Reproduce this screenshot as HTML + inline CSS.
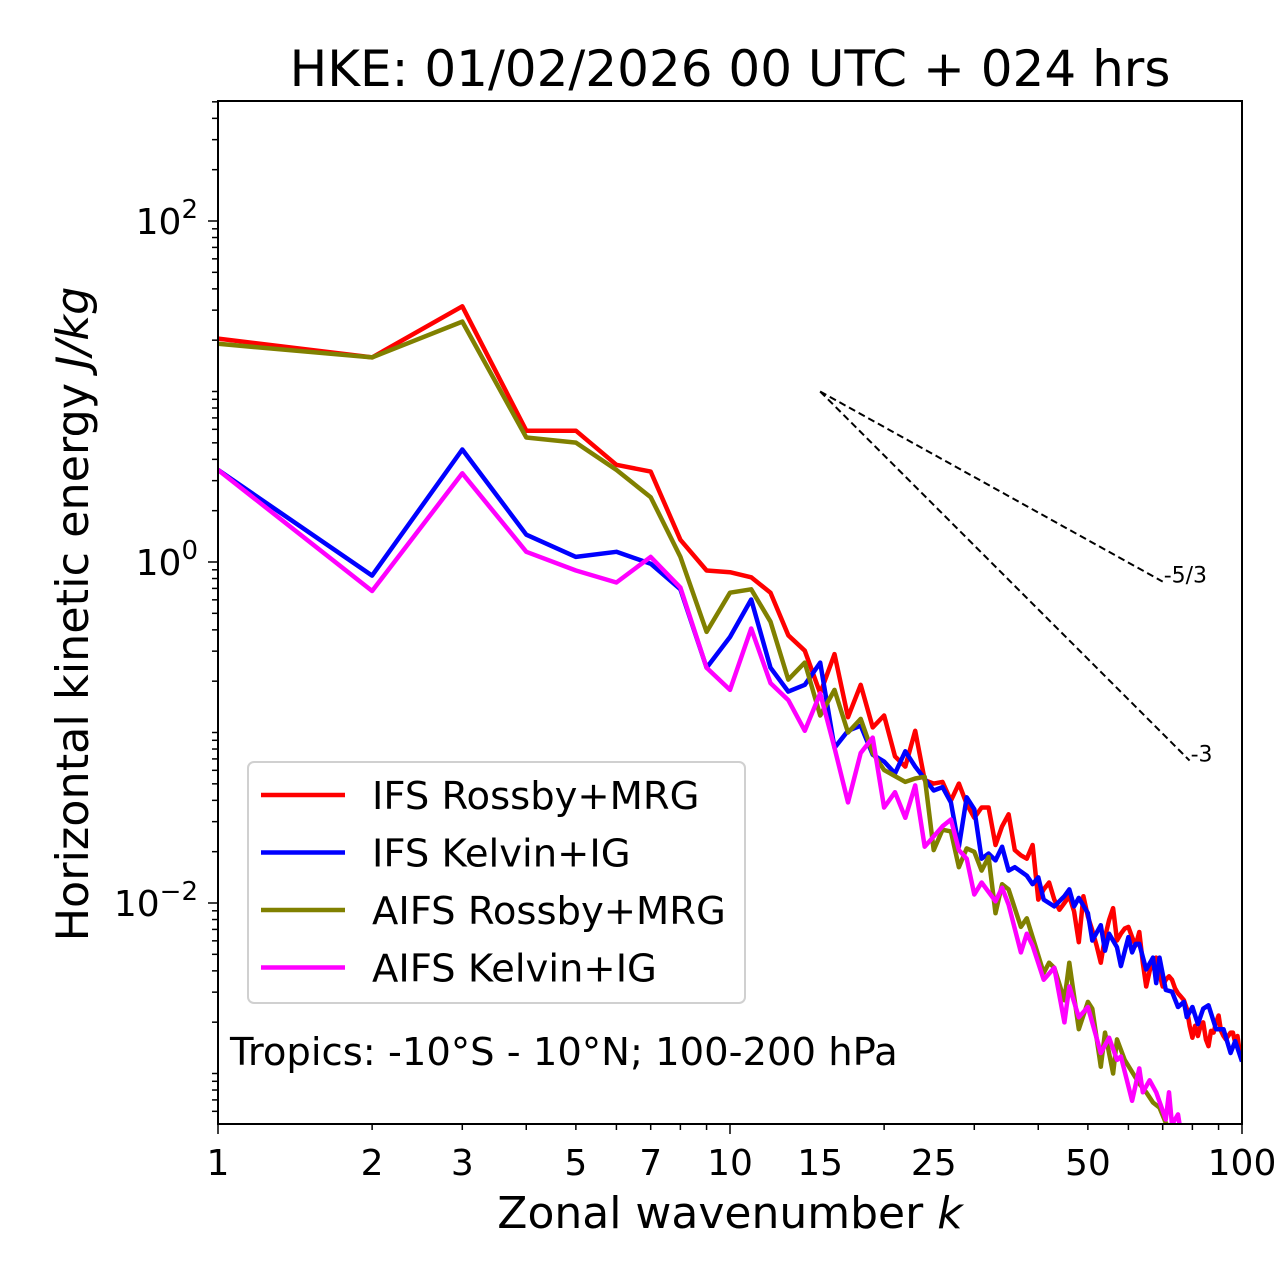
<!DOCTYPE html>
<html><head><meta charset="utf-8"><style>
body{margin:0;background:#fff}
svg{display:block;font-family:"DejaVu Sans","Liberation Sans",sans-serif}
</style></head><body>
<svg id="chart" width="1280" height="1288" viewBox="0 0 1280 1288" xmlns="http://www.w3.org/2000/svg">
<rect width="1280" height="1288" fill="#fff"/>
<text x="730" y="86" font-size="50" text-anchor="middle">HKE: 01/02/2026 00 UTC + 024 hrs</text>
<g id="plot"></g>
</svg>
<script>
// Data: zonal wavenumber k and log10 of energy (J/kg)
const kIfsR = [1,2,3,4,5,6,7,8,9,10,11,12,13,14,15,16,17,18,19,20,21,22,23,24,25,26,27,28,29,30,31,32,33,34,35,36,37,38,39,40,41,42,43,44,45,46,47,48,49,50,51,52,53,54,55,56,57,58,59,60,61,62,63,64,65,66,67,68,69,70,71,72,73,74,75,76,77,78,79,80,81,82,83,84,85,86,87,88,89,90,91,92,93,94,95,96,97,98,99,100];
const logIfsR = [1.31,1.20,1.50,0.77,0.77,0.57,0.53,0.13,-0.05,-0.06,-0.09,-0.18,-0.43,-0.52,-0.77,-0.54,-0.91,-0.72,-0.97,-0.90,-1.14,-1.20,-0.99,-1.28,-1.30,-1.29,-1.40,-1.30,-1.42,-1.50,-1.44,-1.44,-1.66,-1.55,-1.48,-1.69,-1.72,-1.74,-1.66,-1.98,-1.92,-1.88,-1.98,-2.04,-2.00,-1.96,-2.05,-2.23,-1.96,-2.08,-2.16,-2.25,-2.35,-2.20,-2.10,-2.03,-2.22,-2.18,-2.15,-2.14,-2.20,-2.25,-2.17,-2.35,-2.49,-2.40,-2.35,-2.32,-2.42,-2.49,-2.45,-2.43,-2.45,-2.50,-2.53,-2.55,-2.57,-2.62,-2.72,-2.79,-2.72,-2.78,-2.72,-2.70,-2.80,-2.84,-2.75,-2.76,-2.70,-2.66,-2.75,-2.78,-2.80,-2.78,-2.76,-2.76,-2.82,-2.78,-2.88,-2.92];
const kIfsK = [1,2,3,4,5,6,7,8,9,10,11,12,13,14,15,16,17,18,19,20,21,22,23,25,26,27,28,29,30,31,32,33,34,35,36,38,39,40,41,43,45,46,47,48,50,51,53,54,55,57,58,60,61,62,63,65,67,68,69,71,73,75,77,78,80,82,84,86,89,92,95,97,100];
const logIfsK = [0.54,-0.08,0.66,0.16,0.03,0.06,-0.01,-0.16,-0.62,-0.44,-0.22,-0.62,-0.76,-0.72,-0.59,-1.09,-0.99,-0.96,-1.13,-1.17,-1.24,-1.11,-1.20,-1.34,-1.32,-1.41,-1.67,-1.38,-1.45,-1.74,-1.71,-1.75,-1.67,-1.81,-1.79,-1.84,-1.89,-1.85,-1.98,-2.02,-1.96,-1.92,-2.02,-1.97,-2.06,-2.22,-2.13,-2.28,-2.18,-2.26,-2.37,-2.20,-2.29,-2.24,-2.24,-2.39,-2.32,-2.47,-2.32,-2.51,-2.52,-2.61,-2.58,-2.67,-2.61,-2.71,-2.62,-2.60,-2.74,-2.74,-2.88,-2.81,-2.93];
const kAifsR = [1,2,3,4,5,6,7,8,9,10,11,12,13,14,15,16,17,18,19,20,22,23,24,25,26,27,28,29,30,31,32,33,34,35,37,38,39,41,42,43,45,46,48,50,51,53,54,56,57,59,63,65,67,69,71,73,75];
const logAifsR = [1.28,1.20,1.41,0.73,0.70,0.54,0.38,0.03,-0.41,-0.18,-0.16,-0.35,-0.69,-0.59,-0.90,-0.75,-1.00,-0.92,-1.12,-1.22,-1.29,-1.27,-1.26,-1.69,-1.57,-1.58,-1.79,-1.68,-1.70,-1.81,-1.73,-2.06,-1.89,-1.92,-2.14,-2.09,-2.20,-2.41,-2.35,-2.38,-2.57,-2.35,-2.74,-2.58,-2.62,-2.96,-2.76,-3.00,-2.80,-2.92,-3.06,-3.11,-3.17,-3.20,-3.29,-3.35,-3.40];
const kAifsK = [1,2,3,4,5,6,7,8,9,10,11,12,13,14,15,16,17,18,19,20,21,22,23,24,26,27,28,29,30,31,33,34,35,37,38,39,41,43,45,46,48,50,53,55,57,58,61,63,64,66,68,71,72,73,75,76];
const logAifsK = [0.54,-0.17,0.52,0.06,-0.05,-0.12,0.03,-0.15,-0.62,-0.75,-0.39,-0.71,-0.81,-0.99,-0.77,-1.09,-1.41,-1.12,-1.03,-1.44,-1.35,-1.50,-1.31,-1.67,-1.55,-1.51,-1.69,-1.74,-1.95,-1.88,-1.99,-1.91,-2.01,-2.29,-2.18,-2.25,-2.45,-2.38,-2.70,-2.49,-2.67,-2.61,-2.88,-2.79,-2.92,-2.90,-3.16,-2.97,-3.11,-3.04,-3.11,-3.27,-3.11,-3.30,-3.24,-3.35];
const xTickLabels = [1,2,3,5,7,10,15,25,50,100];
const yTickLabelExps = [-2,0,2];
const refStartK = 15, refStartE = 10;
const refSlopes = [-5/3, -3];
const refEndK = [70, 79];
const refLabels = ["-5/3", "-3"];

const L=218,R=1242,T=101,B=1124;
const X=k=>L+(R-L)*Math.log10(k)/2;
const YL=le=>562-170.5*le;
const NS="http://www.w3.org/2000/svg";
const g=document.getElementById('plot');
function mk(tag,attrs,parent){const e=document.createElementNS(NS,tag);for(const a in attrs)e.setAttribute(a,attrs[a]);(parent||g).appendChild(e);return e;}

const defs=mk('defs',{});const cp=mk('clipPath',{id:'clip'},defs);mk('rect',{x:L,y:T,width:R-L,height:B-T},cp);
const lines=mk('g',{'clip-path':'url(#clip)'});



const series=[[kIfsR,logIfsR,'#ff0000','ifs-rossby-mrg-line'],[kIfsK,logIfsK,'#0000ff','ifs-kelvin-ig-line'],[kAifsR,logAifsR,'#808000','aifs-rossby-mrg-line'],[kAifsK,logAifsK,'#ff00ff','aifs-kelvin-ig-line']];
series.forEach(s=>{
  const p=mk('polyline',{points:s[0].map((k,i)=>X(k).toFixed(1)+','+YL(s[1][i]).toFixed(1)).join(' '),fill:'none',stroke:s[2],'stroke-width':4.5,'stroke-linejoin':'round'},lines);
  
  
});
refSlopes.forEach((sl,i)=>{
  const x1=X(refStartK),y1=YL(Math.log10(refStartE));
  const x2=X(refEndK[i]),y2=YL(Math.log10(refStartE)+sl*Math.log10(refEndK[i]/refStartK));
  const l=mk('line',{x1,y1,x2,y2,stroke:'#000','stroke-width':2,'stroke-dasharray':'7,4'},lines);
  
  
  const t=mk('text',{x:x2+1,y:y2+1,'font-size':22},lines);t.textContent=refLabels[i];
  
  
});
const fr=mk('rect',{x:L,y:T,width:R-L,height:B-T,fill:'none',stroke:'#000','stroke-width':2});


for(let d=0;d<2;d++)for(let m=1;m<=10;m++){const k=m*Math.pow(10,d);if(m==10&&d==0)continue;const x=X(k);const len=(m==1||m==10)?10:6;mk('line',{x1:x,y1:B,x2:x,y2:B+len,stroke:'#000','stroke-width':1.5});}
xTickLabels.forEach(k=>{const t=mk('text',{x:X(k),y:B+51,'font-size':36,'text-anchor':'middle'});t.textContent=k;
  
  });
for(let d=-4;d<3;d++)for(let m=1;m<10;m++){const le=d+Math.log10(m);const y=YL(le);if(y<T-0.5||y>B+0.5)continue;const major=(m==1&&d%2==0);mk('line',{x1:L,y1:y,x2:L-(major?10:6),y2:y,stroke:'#000','stroke-width':1.5});}
yTickLabelExps.forEach(e=>{const t=mk('text',{x:198,y:YL(e)+13,'font-size':36,'text-anchor':'end'});t.innerHTML='10<tspan dy="-16" font-size="26">'+(e<0?'\u2212'+(-e):e)+'</tspan>';
  
  });
let t=mk('text',{x:730,y:1228,'font-size':44,'text-anchor':'middle'});t.innerHTML='Zonal wavenumber <tspan font-style="italic">k</tspan>';


t=mk('text',{x:0,y:0,'font-size':44.5,'text-anchor':'middle',transform:'translate(88,614) rotate(-90)'});t.innerHTML='Horizontal kinetic energy <tspan font-style="italic">J/kg</tspan>';


const lg=mk('g',{});


mk('rect',{x:248,y:762,width:497,height:241,rx:6,fill:'#fff','fill-opacity':0.8,stroke:'#d0d0d0','stroke-width':2},lg);
const names=['IFS Rossby+MRG','IFS Kelvin+IG','AIFS Rossby+MRG','AIFS Kelvin+IG'];
names.forEach((n,i)=>{const y=795+i*57.5;
  const l=mk('line',{x1:261,y1:y,x2:345,y2:y,stroke:series[i][2],'stroke-width':4.5},lg);
  
  
  const tx=mk('text',{x:372,y:y+14,'font-size':38.5},lg);tx.textContent=n;
  
  
});
t=mk('text',{x:230,y:1065,'font-size':38.5});t.textContent='Tropics: -10°S - 10°N; 100-200 hPa';


</script>
</body></html>
